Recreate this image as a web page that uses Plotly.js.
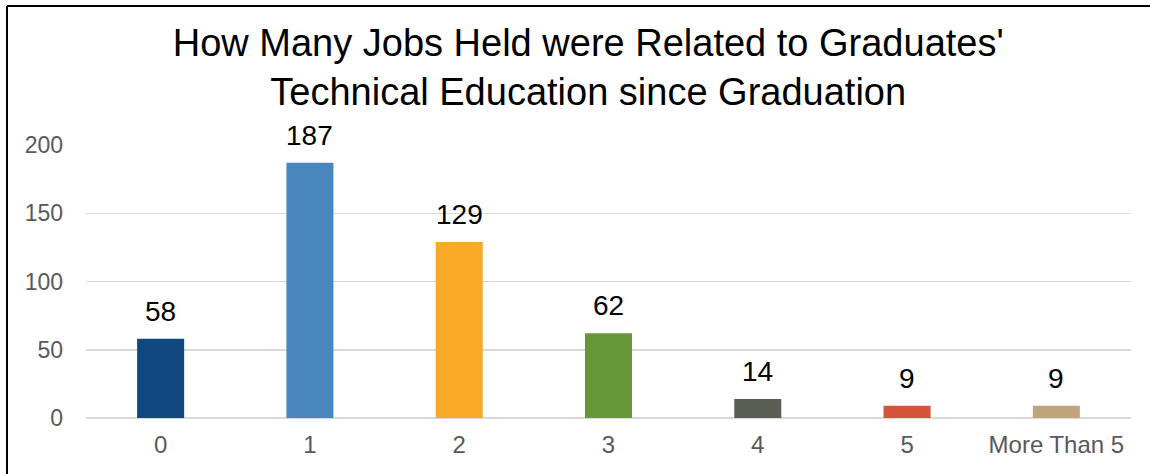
<!DOCTYPE html>
<html>
<head>
<meta charset="utf-8">
<script src="https://cdn.plot.ly/plotly-3.0.1.min.js"></script>
<style>html,body{margin:0;padding:0;background:#fff;}#chart{width:1150px;height:474px;}</style>
</head>
<body>
<div id="chart"></div>
<script>
var categories = ["0", "1", "2", "3", "4", "5", "More Than 5"];
var counts = [58, 187, 129, 62, 14, 9, 9];
var barColors = ["#10477E", "#4A86BE", "#F7A928", "#679737", "#5A5E55", "#D4553A", "#C0A57C"];
var yTicks = [0, 50, 100, 150, 200];

var FONT = "Liberation Sans, Arial, sans-serif";

var trace = {
  type: "bar",
  x: categories,
  y: counts,
  marker: {color: barColors},
  width: 0.315,
  hoverinfo: "x+y"
};

var annotations = categories.map(function(c, i) {
  return {
    x: c, y: counts[i], xref: "x", yref: "y",
    text: String(counts[i]), showarrow: false,
    yanchor: "bottom", yshift: 10,
    font: {family: FONT, size: 28, color: "#000000"}
  };
});

// plot area: x 86..1131 px, y 145..418 px
var PW = 1045, PH = 273;
var bx = (7 - 86) / PW;       // left border x in paper units
var by = (418 - 6) / PH;      // top border y in paper units

var layout = {
  width: 1150, height: 474,
  margin: {l: 86, r: 19, t: 145, b: 56},
  paper_bgcolor: "#ffffff", plot_bgcolor: "#ffffff",
  title: {
    text: "How Many Jobs Held were Related to Graduates'<br>Technical Education since Graduation",
    font: {family: FONT, size: 38, color: "#000000"},
    xref: "container", x: 0.5115, xanchor: "center",
    yref: "container", y: 0.882, yanchor: "top"
  },
  xaxis: {
    type: "category",
    tickfont: {family: FONT, size: 24, color: "#595959"},
    showgrid: false, showline: false, ticks: "",
    ticklabelstandoff: 10
  },
  yaxis: {
    range: [0, 200],
    tickvals: yTicks,
    ticktext: yTicks.map(String),
    tickfont: {family: FONT, size: 23, color: "#595959"},
    showgrid: true, gridcolor: "#d9d9d9", gridwidth: 1.5,
    zeroline: true, zerolinecolor: "#d9d9d9", zerolinewidth: 2,
    showline: false, ticks: "", ticklabelstandoff: 22
  },
  showlegend: false,
  annotations: annotations,
  shapes: [
    {type: "line", xref: "paper", yref: "paper", x0: bx, x1: (1150 - 86) / PW, y0: by, y1: by, line: {color: "#000000", width: 2}},
    {type: "line", xref: "paper", yref: "paper", x0: bx, x1: bx, y0: by, y1: -56 / PH, line: {color: "#000000", width: 2}}
  ]
};

Plotly.newPlot("chart", [trace], layout, {displayModeBar: false, staticPlot: true});
</script>
</body>
</html>
